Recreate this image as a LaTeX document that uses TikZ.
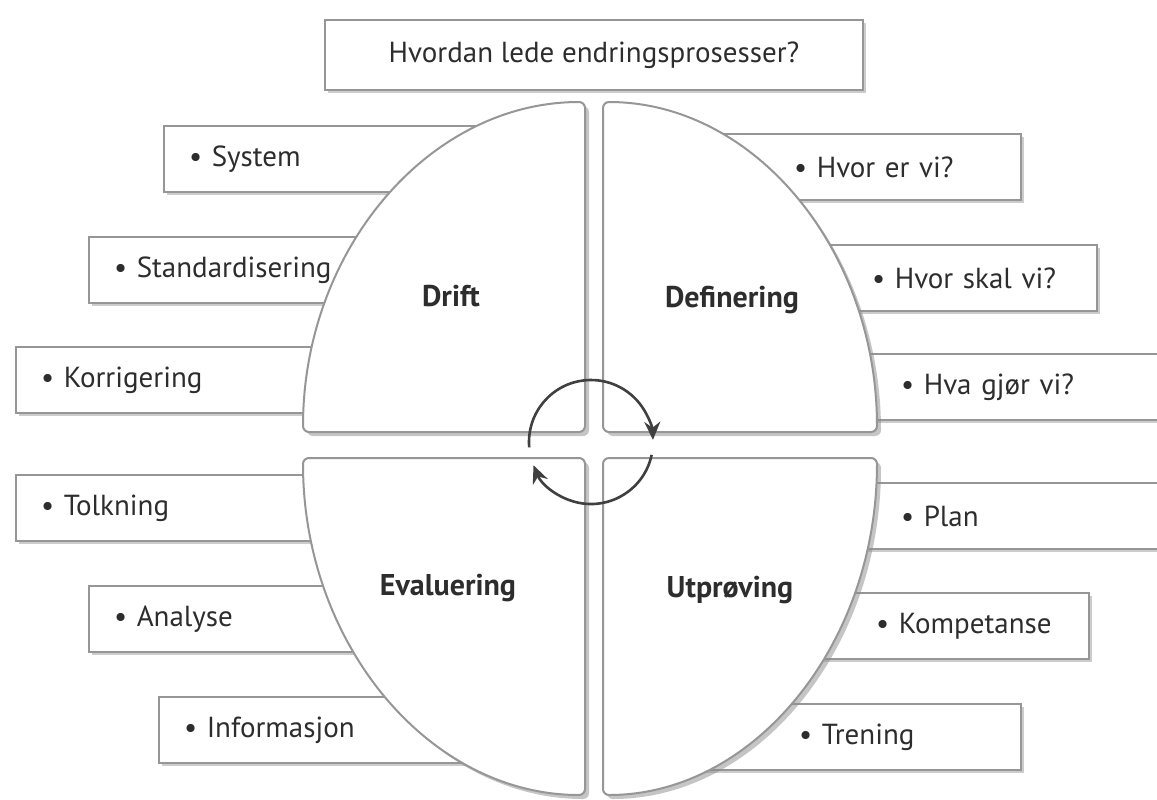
\documentclass[tikz,border=0pt]{standalone}
\usepackage{fontspec}
\setmainfont{PT Sans}
\usetikzlibrary{arrows.meta,shadows}
\definecolor{frame}{RGB}{150,150,150}
\definecolor{ink}{RGB}{45,45,45}

\begin{document}
\begin{tikzpicture}[x=0.5pt,y=-0.5pt,
  box/.style={draw=frame,line width=1pt,fill=white,
              drop shadow={shadow xshift=1.5pt,shadow yshift=-1.5pt,fill=black!40},
              minimum height=33pt,inner xsep=12.5pt,inner ysep=0pt,
              font=\fontsize{14.5}{17}\selectfont,text=ink,align=left},
  lbox/.style={box,anchor=west,text width=#1},
  rbox/.style 2 args={box,anchor=east,text width=#1,
              execute at begin node={\hspace*{#2}}},
  quad/.style={draw=frame,line width=1pt,fill=white,rounded corners=3pt,
              drop shadow={shadow xshift=2pt,shadow yshift=-2pt,fill=black!45}},
  lab/.style={font=\fontsize{15}{18}\selectfont\bfseries,text=ink},
  cyc/.style={draw=black!75,line width=1.3pt,-{Stealth[length=9pt,width=8pt]}}]
  \useasboundingbox (0,0) rectangle (1157,799);
  \clip (0,0) rectangle (1157,799);

  % left boxes
  \node[lbox=163.5pt] (sys) at (163,159) {• System};
  \node[lbox=201pt]   (std) at (88,270)  {• Standardisering};
  \node[lbox=237.5pt] (kor) at (15,380)  {• Korrigering};
  \node[lbox=237.5pt] (tol) at (15,508)  {• Tolkning};
  \node[lbox=201pt]   (ana) at (88,619)  {• Analyse};
  \node[lbox=166pt]   (inf) at (158,730) {• Informasjon};

  % right boxes
  \node[rbox={161pt}{60pt}]    (hev) at (1022,167) {• Hvor er vi?};
  \node[rbox={199pt}{99pt}]    (hsv) at (1098,278) {• Hvor skal vi?};
  \node[rbox={240pt}{113.5pt}] (hgv) at (1180,387) {• Hva gjør vi?};
  \node[rbox={240pt}{113.5pt}] (pla) at (1180,516) {• Plan};
  \node[rbox={195pt}{101pt}]   (kom) at (1090,626) {• Kompetanse};
  \node[rbox={161pt}{62.5pt}]  (tre) at (1022,737) {• Trening};

  % quadrants
  \path[quad] (585,432) -- (303,432)
    arc[start angle=180,end angle=270,x radius=282,y radius=330] -- cycle;
  \path[quad] (603,432) -- (603,102)
    arc[start angle=270,end angle=360,x radius=274,y radius=330] -- cycle;
  \path[quad] (585,458) -- (303,458)
    arc[start angle=180,end angle=90,x radius=282,y radius=337] -- cycle;
  \path[quad] (603,458) -- (877,458)
    arc[start angle=0,end angle=90,x radius=274,y radius=337] -- cycle;

  \node[lab] (drift) at (451,296) {Drift};
  \node[lab] (def)   at (732,300) {Definering};
  \node[lab] (eval)  at (448,588) {Evaluering};
  \node[lab] (utp)   at (730,590) {Utprøving};

  % title
  \node[box,minimum width=269pt,minimum height=35pt,align=center] (title)
    at (594,55) {Hvordan lede endringsprosesser?};

  % cycle arrows
  \coordinate (mid) at (591,442);
  \draw[cyc] (mid) ++(175:62) arc[start angle=175,end angle=358,radius=62];
  \draw[cyc] (mid) ++(12:62) arc[start angle=12,end angle=158,radius=62];
\end{tikzpicture}
\end{document}
